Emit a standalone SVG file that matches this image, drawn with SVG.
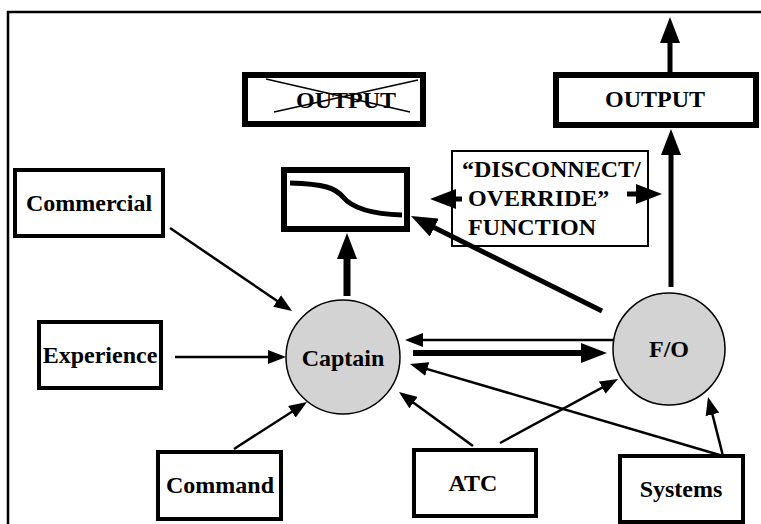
<svg xmlns="http://www.w3.org/2000/svg" width="761" height="524" viewBox="0 0 761 524">
  <style>
    .lbl { font-family: 'Liberation Serif', 'DejaVu Serif', serif; font-weight: 700; font-size: 24px; fill: #000; }
    .mid { text-anchor: middle; }
    .box { fill: #fff; stroke: #000; stroke-width: 4; }
    .heavy { fill: #fff; stroke: #000; stroke-width: 6; }
    .crew { fill: #d3d3d3; stroke: #000; stroke-width: 1.5; }
    .thin { stroke: #000; stroke-width: 2.5; fill: none; marker-end: url(#head-s); }
    .thick { stroke: #000; fill: none; marker-end: url(#head-l); }
  </style>
  <defs>
    <marker id="head-s" markerUnits="userSpaceOnUse" markerWidth="18" markerHeight="14" refX="14" refY="7" orient="auto">
      <path d="M0,0 L18,7 L0,14 z" fill="#000"/>
    </marker>
    <marker id="head-l" markerUnits="userSpaceOnUse" markerWidth="26" markerHeight="20" refX="16" refY="10" orient="auto">
      <path d="M0,0 L26,10 L0,20 z" fill="#000"/>
    </marker>
  </defs>

  <rect width="761" height="524" fill="#fff"/>

  <!-- page frame -->
  <g id="frame">
    <path d="M8,524 V12 H761" fill="none" stroke="#000" stroke-width="2.5"/>
  </g>

  <!-- disabled output -->
  <g id="output-crossed">
    <rect class="heavy" x="245" y="75" width="178" height="49"/>
    <text class="lbl mid" x="346" y="108" font-family="Liberation Serif, serif">OUTPUT</text>
    <line x1="266" y1="79" x2="410" y2="112" stroke="#000" stroke-width="1.5"/>
    <line x1="274" y1="112" x2="418" y2="80" stroke="#000" stroke-width="1.5"/>
  </g>

  <!-- active output -->
  <g id="output">
    <rect class="heavy" x="556" y="75" width="200" height="50"/>
    <text class="lbl mid" x="655" y="107">OUTPUT</text>
  </g>

  <!-- control response box -->
  <g id="response">
    <rect class="heavy" x="284" y="170" width="123" height="59"/>
    <path d="M290,183 C325,184 335,188 343,197 C352,208 370,214 402,215" fill="none" stroke="#000" stroke-width="5"/>
  </g>

  <g id="disconnect">
    <rect x="452" y="151" width="196" height="95" fill="#fff" stroke="#000" stroke-width="2"/>
    <text class="lbl" x="462" y="177">“DISCONNECT/</text>
    <text class="lbl" x="468" y="206">OVERRIDE”</text>
    <text class="lbl" x="468" y="235">FUNCTION</text>
  </g>

  <g id="commercial">
    <rect class="box" x="15" y="170" width="148" height="66"/>
    <text class="lbl mid" x="89" y="211">Commercial</text>
  </g>

  <g id="experience">
    <rect class="box" x="39" y="322" width="122" height="66"/>
    <text class="lbl mid" x="100" y="363">Experience</text>
  </g>

  <g id="command">
    <rect class="box" x="158" y="452" width="123" height="67"/>
    <text class="lbl mid" x="220" y="493">Command</text>
  </g>

  <g id="atc">
    <rect class="box" x="414" y="450" width="122" height="66"/>
    <text class="lbl mid" x="473" y="491">ATC</text>
  </g>

  <g id="systems">
    <rect class="box" x="620" y="456" width="123" height="66"/>
    <text class="lbl mid" x="681" y="497">Systems</text>
  </g>

  <g id="captain">
    <circle class="crew" cx="343" cy="357" r="57"/>
    <text class="lbl mid" x="343" y="366">Captain</text>
  </g>

  <g id="fo">
    <circle class="crew" cx="669" cy="349" r="56"/>
    <text class="lbl mid" x="669" y="357">F/O</text>
  </g>

  <g id="connectors">
    <line class="thin" x1="170" y1="228" x2="288.7" y2="308.8"/>
    <line class="thin" x1="175" y1="357" x2="282" y2="357"/>
    <line class="thin" x1="234" y1="449" x2="303.6" y2="404.2"/>
    <line class="thin" x1="473" y1="446" x2="402.2" y2="394.4"/>
    <line class="thin" x1="500" y1="443" x2="614.5" y2="380.9"/>
    <line class="thin" x1="723" y1="456" x2="413.8" y2="365.1"/>
    <line class="thin" x1="723" y1="456" x2="709" y2="400.9"/>
    <line class="thin" x1="613.7" y1="340" x2="409" y2="340" stroke-width="3"/>
    <line class="thick" x1="413" y1="353" x2="597" y2="353" stroke-width="6"/>
    <line class="thick" x1="347" y1="296" x2="347" y2="243" stroke-width="7"/>
    <line class="thick" x1="602" y1="311" x2="420" y2="220.5" stroke-width="5"/>
    <line class="thick" x1="671" y1="287" x2="671" y2="139" stroke-width="5"/>
    <line class="thick" x1="670" y1="72" x2="670" y2="27" stroke-width="5"/>
    <line class="thick" x1="462" y1="199" x2="440" y2="199" stroke-width="5"/>
    <line class="thick" x1="627" y1="194" x2="652" y2="194" stroke-width="5"/>
  </g>
</svg>
